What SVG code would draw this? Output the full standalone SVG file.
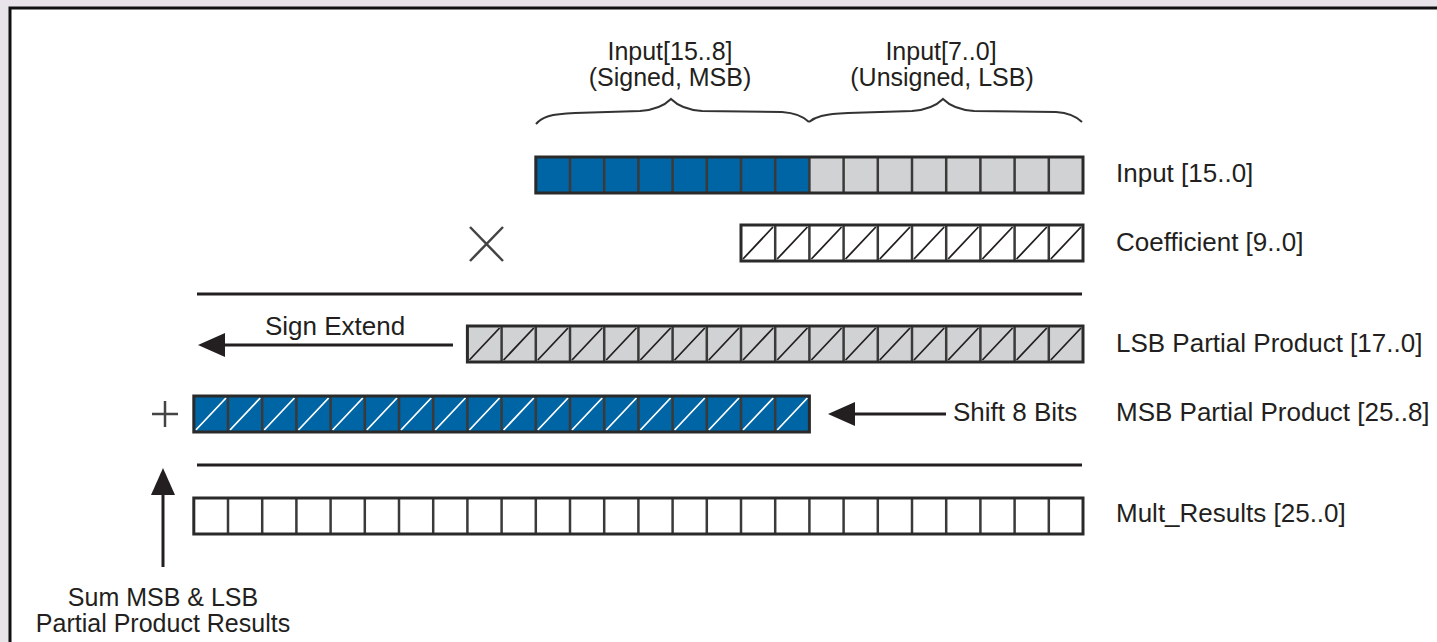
<svg xmlns="http://www.w3.org/2000/svg" width="1437" height="642" viewBox="0 0 1437 642">
<style>
  text { font-family: "Liberation Sans", Arial, sans-serif; font-size: 26px; fill: #231f20; }
  .mid { text-anchor: middle; }
  .two { font-size: 25px; }
  .cellb { stroke: #3a3a3a; stroke-width: 2.5; }
  .outer { fill: none; stroke: #2a2a2a; stroke-width: 3; }
  .diag { stroke: #231f20; stroke-width: 1.8; fill: none; }
  .diagw { stroke: #ffffff; stroke-width: 1.8; fill: none; }
  .rule { stroke: #231f20; stroke-width: 3; }
  .arrow { stroke: #231f20; stroke-width: 3; fill: none; }
  .head { fill: #231f20; }
  .brace { stroke: #333; stroke-width: 2; fill: none; }
  .mark { stroke: #444; stroke-width: 2.5; fill: none; }
</style>
<rect x="0" y="0" width="1437" height="642" fill="#e8e4ea"/>
<rect x="10" y="8" width="1440" height="660" fill="#ffffff" stroke="#111" stroke-width="3"/>

<g id="braces">
  <path class="brace" d="M536,124 C542,117 550,114 575,113 L640,111 C655,110 664,106 671,99 C678,106 687,110 702,111 L782,112 C796,113 804,117 809,122"/>
  <path class="brace" d="M809,122 C815,117 823,114 848,113 L912,111 C927,110 936,106 943,99 C950,106 959,110 974,111 L1056,112 C1070,113 1077,117 1082,122"/>
  <text class="mid two" x="670" y="60">Input[15..8]</text>
  <text class="mid two" x="670" y="86">(Signed, MSB)</text>
  <text class="mid two" x="941" y="60">Input[7..0]</text>
  <text class="mid two" x="942" y="86">(Unsigned, LSB)</text>
</g>

<g id="input">
  <rect x="535.8" y="157" width="273.6" height="36" fill="#0065a4"/>
  <rect x="809.4" y="157" width="273.6" height="36" fill="#d1d2d4"/>
  <path class="cellb" d="M570,157V193M604.2,157V193M638.4,157V193M672.6,157V193M706.8,157V193M741,157V193M775.2,157V193M809.4,157V193M843.6,157V193M877.8,157V193M912,157V193M946.2,157V193M980.4,157V193M1014.6,157V193M1048.8,157V193"/>
  <rect class="outer" x="535.8" y="157" width="547.2" height="36"/>
  <text x="1116" y="182">Input [15..0]</text>
</g>

<g id="multiply">
  <path class="mark" d="M470,227L503,261M503,227L470,261"/>
</g>

<g id="coefficient">
  <rect x="741" y="225" width="342" height="36" fill="#ffffff"/>
  <path class="cellb" d="M775.2,225V261M809.4,225V261M843.6,225V261M877.8,225V261M912,225V261M946.2,225V261M980.4,225V261M1014.6,225V261M1048.8,225V261"/>
  <path class="diag" d="M743,259L773,227M777.2,259L807.4,227M811.4,259L841.6,227M845.6,259L875.8,227M879.8,259L910,227M914,259L944.2,227M948.2,259L978.4,227M982.4,259L1012.6,227M1016.6,259L1046.8,227M1050.8,259L1081,227"/>
  <rect class="outer" x="741" y="225" width="342" height="36"/>
  <text x="1116" y="251">Coefficient [9..0]</text>
</g>

<g id="rule1">
  <line class="rule" x1="197" y1="294" x2="1082" y2="294"/>
</g>

<g id="lsb">
  <rect x="467.4" y="326" width="615.6" height="36" fill="#d1d2d4"/>
  <path class="cellb" d="M501.6,326V362M535.8,326V362M570,326V362M604.2,326V362M638.4,326V362M672.6,326V362M706.8,326V362M741,326V362M775.2,326V362M809.4,326V362M843.6,326V362M877.8,326V362M912,326V362M946.2,326V362M980.4,326V362M1014.6,326V362M1048.8,326V362"/>
  <path class="diag" d="M469.4,360L499.6,328M503.6,360L533.8,328M537.8,360L568,328M572,360L602.2,328M606.2,360L636.4,328M640.4,360L670.6,328M674.6,360L704.8,328M708.8,360L739,328M743,360L773.2,328M777.2,360L807.4,328M811.4,360L841.6,328M845.6,360L875.8,328M879.8,360L910,328M914,360L944.2,328M948.2,360L978.4,328M982.4,360L1012.6,328M1016.6,360L1046.8,328M1050.8,360L1081,328"/>
  <rect class="outer" x="467.4" y="326" width="615.6" height="36"/>
  <text x="1116" y="352">LSB Partial Product [17..0]</text>
</g>

<g id="msb">
  <rect x="193.8" y="396" width="615.6" height="36" fill="#0065a4"/>
  <path class="cellb" d="M228,396V432M262.2,396V432M296.4,396V432M330.6,396V432M364.8,396V432M399,396V432M433.2,396V432M467.4,396V432M501.6,396V432M535.8,396V432M570,396V432M604.2,396V432M638.4,396V432M672.6,396V432M706.8,396V432M741,396V432M775.2,396V432"/>
  <path class="diagw" d="M195.8,430L226,398M230,430L260.2,398M264.2,430L294.4,398M298.4,430L328.6,398M332.6,430L362.8,398M366.8,430L397,398M401,430L431.2,398M435.2,430L465.4,398M469.4,430L499.6,398M503.6,430L533.8,398M537.8,430L568,398M572,430L602.2,398M606.2,430L636.4,398M640.4,430L670.6,398M674.6,430L704.8,398M708.8,430L739,398M743,430L773.2,398M777.2,430L807.4,398"/>
  <rect class="outer" x="193.8" y="396" width="615.6" height="36" stroke="#1e1e1e"/>
  <text x="1116" y="421">MSB Partial Product [25..8]</text>
</g>

<g id="plus">
  <path class="mark" d="M152,414H178M165,401V427"/>
</g>

<g id="rule2">
  <line class="rule" x1="197" y1="465" x2="1082" y2="465"/>
</g>

<g id="results">
  <rect x="193.8" y="498" width="889.2" height="36" fill="#ffffff"/>
  <path class="cellb" d="M228,498V534M262.2,498V534M296.4,498V534M330.6,498V534M364.8,498V534M399,498V534M433.2,498V534M467.4,498V534M501.6,498V534M535.8,498V534M570,498V534M604.2,498V534M638.4,498V534M672.6,498V534M706.8,498V534M741,498V534M775.2,498V534M809.4,498V534M843.6,498V534M877.8,498V534M912,498V534M946.2,498V534M980.4,498V534M1014.6,498V534M1048.8,498V534"/>
  <rect class="outer" x="193.8" y="498" width="889.2" height="36"/>
  <text x="1116" y="522">Mult_Results [25..0]</text>
</g>

<g id="connectors">
  <line class="arrow" x1="453" y1="345" x2="222" y2="345"/>
  <polygon class="head" points="198,345 225,333 225,357"/>
  <line class="arrow" x1="946" y1="414" x2="852" y2="414"/>
  <polygon class="head" points="828,414 855,402 855,426"/>
  <line class="arrow" x1="163" y1="567" x2="163" y2="492"/>
  <polygon class="head" points="163,468 151,495 175,495"/>
</g>

<g id="labels">
  <text class="mid" x="335" y="335">Sign Extend</text>
  <text x="953" y="421">Shift 8 Bits</text>
  <text class="mid two" x="163" y="606">Sum MSB &amp; LSB</text>
  <text class="mid two" x="163" y="632">Partial Product Results</text>
</g>
</svg>
